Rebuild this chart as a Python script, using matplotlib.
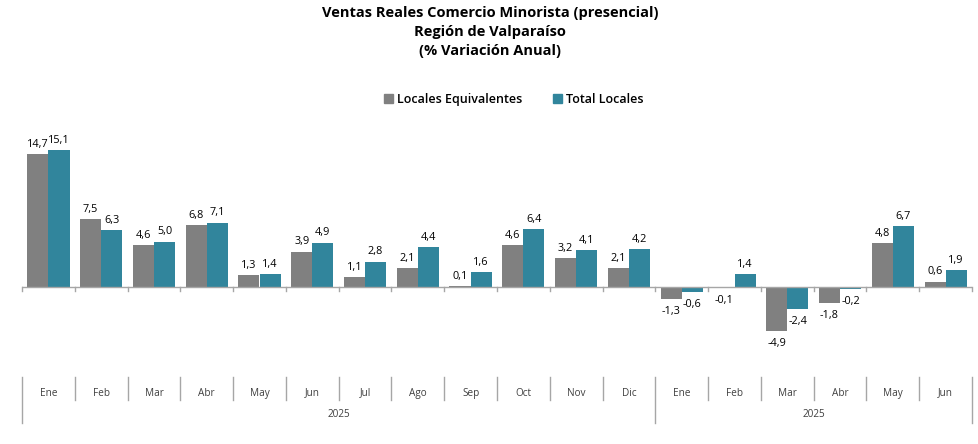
import matplotlib
matplotlib.use("Agg")
import matplotlib.pyplot as plt
from matplotlib.patches import Patch
from matplotlib.lines import Line2D
import numpy as np

plt.rcParams['font.family'] = ['Open Sans', 'DejaVu Sans']

months = ["Ene", "Feb", "Mar", "Abr", "May", "Jun", "Jul", "Ago", "Sep", "Oct", "Nov", "Dic",
          "Ene", "Feb", "Mar", "Abr", "May", "Jun"]
years = ["2025", "2025"]
year_spans = [(0, 12), (12, 18)]
locales_equivalentes = [14.7, 7.5, 4.6, 6.8, 1.3, 3.9, 1.1, 2.1, 0.1, 4.6, 3.2, 2.1,
                        -1.3, -0.1, -4.9, -1.8, 4.8, 0.6]
total_locales = [15.1, 6.3, 5.0, 7.1, 1.4, 4.9, 2.8, 4.4, 1.6, 6.4, 4.1, 4.2,
                 -0.6, 1.4, -2.4, -0.2, 6.7, 1.9]

GRAY = "#808080"
TEAL = "#31859C"

W, H = 979, 444
fig = plt.figure(figsize=(W / 100, H / 100), dpi=100)
ymin, ymax = -7, 17
ppu = 9.07
zero_px = 287
top_px = zero_px - ymax * ppu
bot_px = zero_px - ymin * ppu
ax = fig.add_axes([22 / W, 1 - bot_px / H, 950 / W, (bot_px - top_px) / H])
ax.set_xlim(-0.5, len(months) - 0.5)
ax.set_ylim(ymin, ymax)
for s in ax.spines.values():
    s.set_visible(False)
ax.set_xticks([])
ax.set_yticks([])

x = np.arange(len(months))
bw = 0.40
ax.bar(x - bw / 2, locales_equivalentes, bw, color=GRAY, zorder=2)
ax.bar(x + bw / 2, total_locales, bw, color=TEAL, zorder=2)
ax.axhline(0, color="#A6A6A6", lw=1, zorder=3)

def fmt(v):
    return f"{v:.1f}".replace(".", ",")

for xi, v in zip(x - bw / 2, locales_equivalentes):
    ax.annotate(fmt(v), (xi, v), xytext=(0, 3 if v >= 0 else -5), textcoords="offset points",
                ha="center", va="bottom" if v >= 0 else "top", fontsize=7.8, color="#000000")
for xi, v in zip(x + bw / 2, total_locales):
    ax.annotate(fmt(v), (xi, v), xytext=(0, 3 if v >= 0 else -5), textcoords="offset points",
                ha="center", va="bottom" if v >= 0 else "top", fontsize=7.8, color="#000000")

# Category axis (two levels)
def ypx(p):
    return 1 - (p - top_px) / (bot_px - top_px)

lc = "#A6A6A6"
trans = ax.get_xaxis_transform()
for b in np.arange(len(months) + 1) - 0.5:
    ax.add_line(Line2D([b, b], [ypx(287), ypx(291)], transform=trans, color=lc, lw=1, clip_on=False))
for i in range(len(months) + 1):
    b = i - 0.5
    is_group = any(b == s - 0.5 for s, e in year_spans) or b == len(months) - 0.5
    y2 = 423 if is_group else 400
    ax.add_line(Line2D([b, b], [ypx(377), ypx(y2)], transform=trans, color=lc, lw=1, clip_on=False))
for i, m in enumerate(months):
    ax.text(i, ypx(393), m, transform=trans, ha="center", va="center", fontsize=7.2, color="#404040")
for (s, e), yl in zip(year_spans, years):
    ax.text((s + e - 1) / 2, ypx(414), yl, transform=trans, ha="center", va="center",
            fontsize=7.2, color="#404040")

fig.text(490 / W, 1 - 32 / H,
         "Ventas Reales Comercio Minorista (presencial)\nRegión de Valparaíso\n(% Variación Anual)",
         ha="center", va="center", fontsize=10.5, fontweight="bold", linespacing=1.5)

handles = [Patch(color=GRAY, label="Locales Equivalentes"), Patch(color=TEAL, label="Total Locales")]
fig.legend(handles=handles, loc="center", bbox_to_anchor=(514 / W, 1 - 99 / H), ncol=2,
           frameon=False, handlelength=0.7, handleheight=0.7, handletextpad=0.3,
           columnspacing=2.5, prop={'weight': 'semibold', 'size': 9})

fig.savefig("out.png", dpi=100)
